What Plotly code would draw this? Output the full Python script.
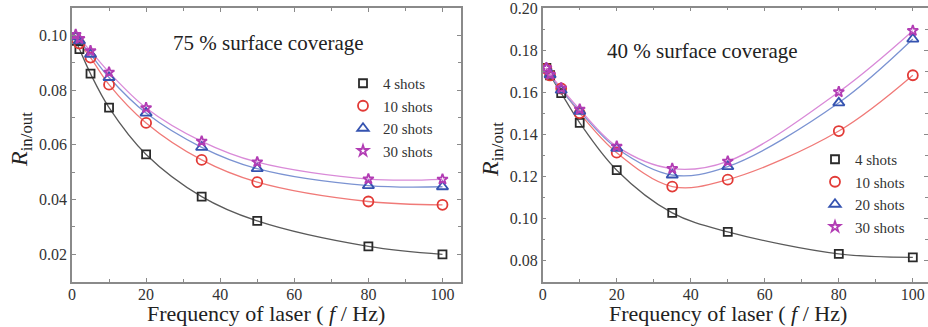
import plotly.graph_objects as go

# ---- data ----
freq = [1, 2, 5, 10, 20, 35, 50, 80, 100]
series_names = ["4 shots", "10 shots", "20 shots", "30 shots"]

left_4 = [0.0980, 0.0950, 0.0860, 0.0736, 0.0565, 0.0411, 0.0322, 0.0229, 0.0200]
left_10 = [0.0990, 0.0970, 0.0919, 0.0820, 0.0680, 0.0545, 0.0464, 0.0393, 0.0381]
left_20 = [0.0995, 0.0980, 0.0931, 0.0846, 0.0716, 0.0591, 0.0513, 0.0451, 0.0447]
left_30 = [0.1003, 0.0988, 0.0943, 0.0865, 0.0735, 0.0613, 0.0537, 0.0475, 0.0474]

right_4 = [0.1716, 0.1681, 0.1596, 0.1455, 0.1230, 0.1027, 0.0937, 0.0832, 0.0816]
right_10 = [0.1712, 0.1680, 0.1618, 0.1501, 0.1313, 0.1152, 0.1185, 0.1416, 0.1681]
right_20 = [0.1714, 0.1683, 0.1610, 0.1510, 0.1334, 0.1207, 0.1247, 0.1550, 0.1853]
right_30 = [0.1716, 0.1685, 0.1620, 0.1519, 0.1343, 0.1237, 0.1272, 0.1602, 0.1893]

left_title = "75 % surface coverage"
right_title = "40 % surface coverage"
x_title = "Frequency of laser ( <i>f</i> / Hz)"
y_title = "<i>R</i><sub>in/out</sub>"

# ---- styles ----
marker_colors = ["#2a2a2a", "#e23a36", "#3553b0", "#b23cb4"]
line_colors = ["#5a5a5a", "#f07a78", "#7b93d2", "#d98ad8"]
symbols = ["square-open", "circle-open", "triangle-up-open", "star-open"]
msizes = [8, 10, 10, 8]
FONT = "Liberation Serif"

fig = go.Figure()

panels = [
    ("x", "y", "legend", [left_4, left_10, left_20, left_30]),
    ("x2", "y2", "legend2", [right_4, right_10, right_20, right_30]),
]
for xa, ya, lg, data in panels:
    for i, vals in enumerate(data):
        fig.add_trace(go.Scatter(
            x=freq, y=vals, xaxis=xa, yaxis=ya, mode="lines",
            line=dict(color=line_colors[i], width=1.3, shape="spline", smoothing=1.0),
            showlegend=False, hoverinfo="skip"))
    for i, vals in enumerate(data):
        fig.add_trace(go.Scatter(
            x=freq, y=vals, xaxis=xa, yaxis=ya, mode="markers",
            name=series_names[i], legend=lg,
            marker=dict(symbol=symbols[i], size=msizes[i], color=marker_colors[i],
                        line=dict(width=1.8, color=marker_colors[i]))))

W, H = 928, 327
axis_common = dict(
    showline=True, linecolor="#8a8a8a", linewidth=1.5, mirror="ticks",
    ticks="inside", ticklen=4, tickwidth=1.2, tickcolor="#8a8a8a",
    showgrid=False, zeroline=False, automargin=False, ticklabeloverflow="allow",
    tickfont=dict(family=FONT, size=16, color="#333333"),
)

fig.update_layout(
    width=W, height=H,
    margin=dict(l=0, r=0, t=0, b=0),
    paper_bgcolor="white", plot_bgcolor="white",
    font=dict(family=FONT, color="#333333"),
    xaxis=dict(domain=[72 / W, 461 / W], range=[0, 105], dtick=20, tick0=0,
               ticklabelstandoff=-3,
               minor=dict(ticks="inside", ticklen=3, dtick=10, tickcolor="#8a8a8a"),
               anchor="y", **axis_common),
    yaxis=dict(domain=[(H - 281.7) / H, (H - 8) / H], range=[0.01, 0.11], dtick=0.02,
               tick0=0.0, tickformat=".2f",
               minor=dict(ticks="inside", ticklen=3, dtick=0.01, tickcolor="#8a8a8a"),
               anchor="x", **axis_common),
    xaxis2=dict(domain=[542.7 / W, 1.0], range=[0, 104.1], dtick=20, tick0=0,
                ticklabelstandoff=-3,
                minor=dict(ticks="inside", ticklen=3, dtick=10, tickcolor="#8a8a8a"),
                anchor="y2", **axis_common),
    yaxis2=dict(domain=[(H - 281.7) / H, (H - 7.5) / H], range=[0.07, 0.2003], dtick=0.02,
                tick0=0.08, tickformat=".2f",
                minor=dict(ticks="inside", ticklen=3, dtick=0.01, tickcolor="#8a8a8a"),
                anchor="x2", **axis_common),
    legend=dict(x=343 / W, y=(H - 67) / H, xanchor="left", yanchor="top",
                bgcolor="rgba(0,0,0,0)", font=dict(family=FONT, size=15, color="#333333"),
                tracegroupgap=0, itemwidth=30),
    legend2=dict(x=815 / W, y=(H - 143) / H, xanchor="left", yanchor="top",
                 bgcolor="rgba(0,0,0,0)", font=dict(family=FONT, size=15, color="#333333"),
                 tracegroupgap=0, itemwidth=30),
    annotations=[
        dict(text=left_title, x=268 / W, y=(H - 43) / H, xref="paper", yref="paper",
             xanchor="center", yanchor="middle",
             showarrow=False, font=dict(family=FONT, size=21, color="#222222")),
        dict(text=right_title, x=702 / W, y=(H - 51) / H, xref="paper", yref="paper",
             xanchor="center", yanchor="middle",
             showarrow=False, font=dict(family=FONT, size=21, color="#222222")),
        dict(text=x_title, x=266 / W, y=(H - 313) / H, xref="paper", yref="paper",
             xanchor="center", yanchor="middle",
             showarrow=False, font=dict(family=FONT, size=22, color="#222222")),
        dict(text=x_title, x=728 / W, y=(H - 313) / H, xref="paper", yref="paper",
             xanchor="center", yanchor="middle",
             showarrow=False, font=dict(family=FONT, size=22, color="#222222")),
        dict(text=y_title, x=21 / W, y=(H - 140) / H, xref="paper", yref="paper",
             xanchor="center", yanchor="middle",
             textangle=-90, showarrow=False, font=dict(family=FONT, size=24, color="#222222")),
        dict(text=y_title, x=492 / W, y=(H - 150) / H, xref="paper", yref="paper",
             xanchor="center", yanchor="middle",
             textangle=-90, showarrow=False, font=dict(family=FONT, size=24, color="#222222")),
    ],
)

fig.write_html("out.html")
